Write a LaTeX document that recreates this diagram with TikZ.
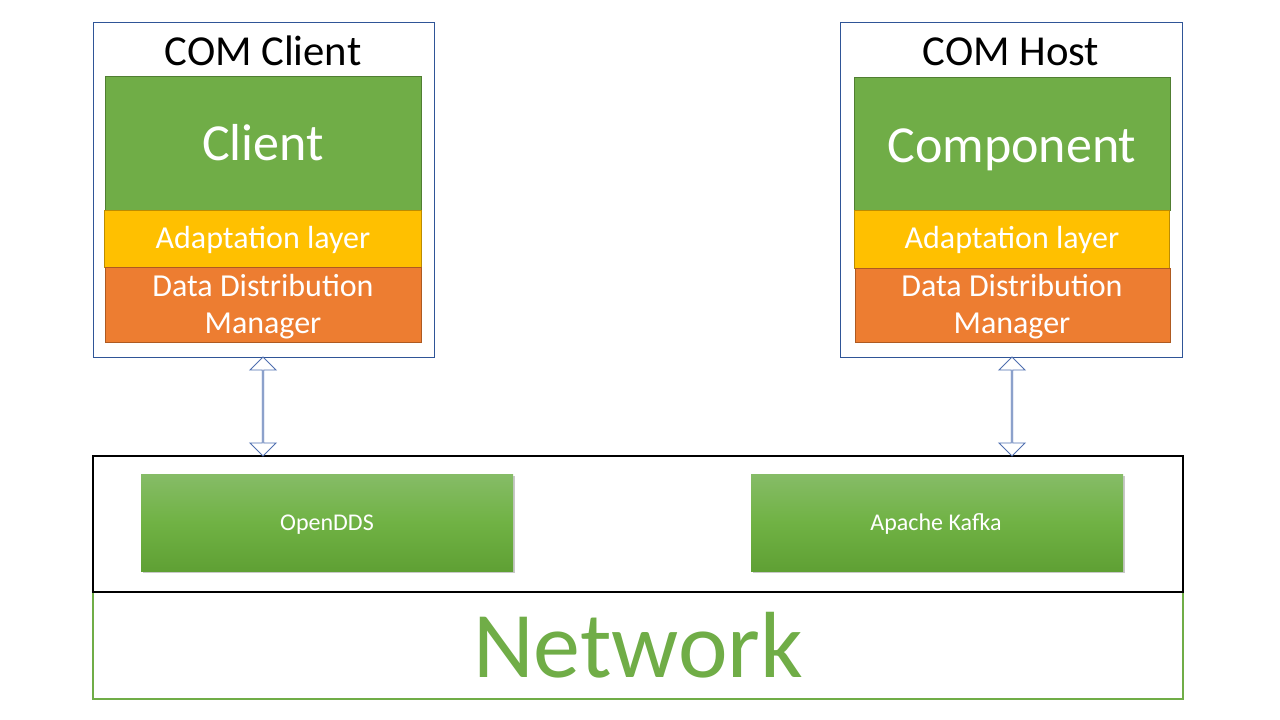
\documentclass[tikz,border=0pt]{standalone}
\usepackage{fontspec}
\setmainfont{Carlito}
\usetikzlibrary{shapes.arrows,shadows,calc}
\definecolor{frameblue}{HTML}{2F5597}
\definecolor{arrowblue}{HTML}{4F6FB0}
\definecolor{compgreen}{HTML}{70AD47}
\definecolor{compgreenb}{HTML}{507E32}
\definecolor{adaptyellow}{HTML}{FFC000}
\definecolor{adaptyellowb}{HTML}{BC8C00}
\definecolor{ddmorange}{HTML}{ED7D31}
\definecolor{ddmorangeb}{HTML}{AE5A21}
\definecolor{gtop}{HTML}{86BC67}
\definecolor{gmid}{HTML}{70B244}
\definecolor{gbot}{HTML}{5FA034}
\tikzset{
  box/.style={rectangle, inner sep=0pt, outer sep=0pt, anchor=north west},
  frame/.style={box, draw=frameblue, line width=0.9pt, fill=white},
  complayer/.style={box, draw=compgreenb, line width=0.7pt, fill=compgreen},
  adaptlayer/.style={box, draw=adaptyellowb, line width=0.7pt, fill=adaptyellow},
  ddmlayer/.style={box, draw=ddmorangeb, line width=0.7pt, fill=ddmorange},
  mwbox/.style={box, draw=black, line width=1.2pt},
  netbox/.style={box, draw=compgreen, line width=1.4pt},
  techbox/.style={box, top color=gtop, bottom color=gbot, middle color=gmid,
    drop shadow={shadow xshift=1.5pt, shadow yshift=-2pt, opacity=0.3, fill=black!70}},
  title/.style={anchor=base, font=\fontsize{42.7}{48}\selectfont, text=black},
  bigtxt/.style={anchor=base, font=\fontsize{52}{60}\selectfont, text=white},
  laytxt/.style={anchor=base, font=\fontsize{32}{38}\selectfont, text=white},
  techtxt/.style={anchor=base, font=\fontsize{24}{28}\selectfont, text=white},
  nettxt/.style={anchor=base, font=\fontsize{94}{100}\selectfont, text=compgreen},
  hollow/.style={double arrow, draw=arrowblue, line width=0.9pt, fill=white,
    rotate=90, minimum height=99pt, minimum width=26pt,
    double arrow head extend=7pt, inner sep=0pt, outer sep=0pt},
}
\begin{document}
\begin{tikzpicture}[x=1pt,y=-1pt]
\useasboundingbox (0,0) rectangle (1280,720);
\fill[white] (0,0) rectangle (1280,720);

% COM Client
\node[frame, minimum width=341pt, minimum height=335pt] (outerL) at (93,22) {};
\node[title] (titleL) at (263,65) {COM Client};
\node[complayer, minimum width=316pt, minimum height=134pt] (compL) at (105,76) {};
\node[adaptlayer, minimum width=317pt, minimum height=57pt] (adaptL) at (104,210) {};
\node[ddmlayer, minimum width=316pt, minimum height=75pt] (ddmL) at (105,267) {};
\node[bigtxt] (compLt) at (263,160) {Client};
\node[laytxt] (adaptLt) at (263,248) {Adaptation layer};
\node[laytxt] (ddmLt1) at (263,296) {Data Distribution};
\node[laytxt] (ddmLt2) at (263,333) {Manager};

% COM Host
\node[frame, minimum width=342pt, minimum height=335pt] (outerR) at (840,22) {};
\node[title] (titleR) at (1011,65) {COM Host};
\node[complayer, minimum width=316pt, minimum height=133pt] (compR) at (854,77) {};
\node[adaptlayer, minimum width=315pt, minimum height=58pt] (adaptR) at (854,210) {};
\node[ddmlayer, minimum width=315pt, minimum height=74pt] (ddmR) at (855,268) {};
\node[bigtxt] (compRt) at (1012,162) {Component};
\node[laytxt] (adaptRt) at (1012,248) {Adaptation layer};
\node[laytxt] (ddmRt1) at (1012,296) {Data Distribution};
\node[laytxt] (ddmRt2) at (1012,333) {Manager};

% Middleware and network
\node[netbox, minimum width=1090pt, minimum height=107pt] (net) at (93,592) {};
\node[mwbox, minimum width=1090pt, minimum height=136pt] (mw) at (93,456) {};
\node[nettxt] (nett) at (638,677) {Network};

\node[techbox, minimum width=372pt, minimum height=97pt] (dds) at (141,474) {};
\node[techtxt] (ddst) at (327,530) {OpenDDS};
\node[techbox, minimum width=372pt, minimum height=97pt] (kafka) at (751,474) {};
\node[techtxt] (kafkat) at (936,530) {Apache Kafka};

% Arrows
\coordinate (aLtop) at (263,357);
\coordinate (aRtop) at (1012,357);
\node[hollow] (arrL) at ($(aLtop)!0.5!(aLtop |- mw.north)$) {};
\node[hollow] (arrR) at ($(aRtop)!0.5!(aRtop |- mw.north)$) {};
\end{tikzpicture}
\end{document}
